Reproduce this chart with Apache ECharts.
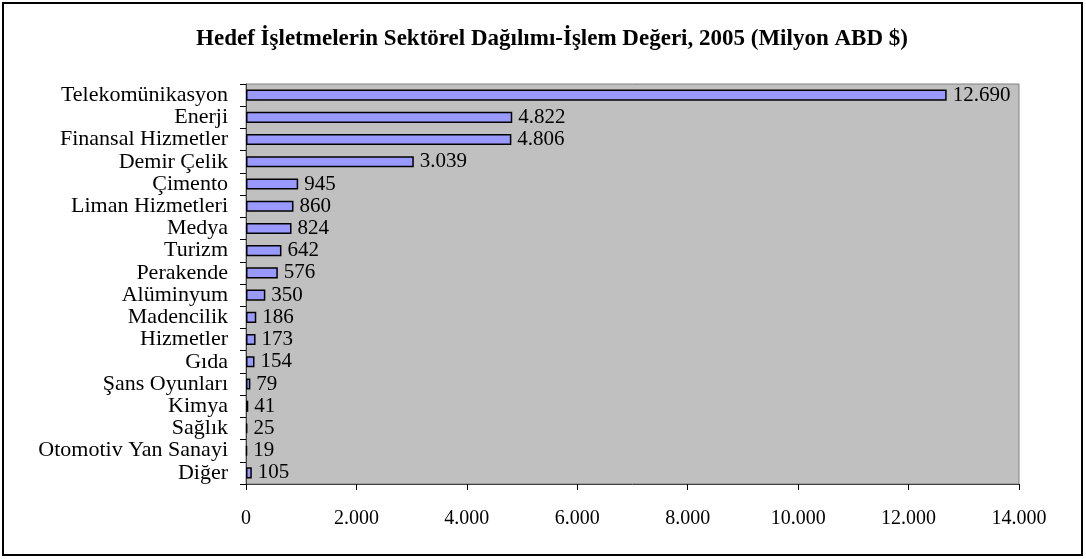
<!DOCTYPE html>
<html>
<head>
<meta charset="utf-8">
<script src="https://cdn.jsdelivr.net/npm/echarts@6/dist/echarts.min.js"></script>
<style>
  html, body { margin: 0; padding: 0; background: #ffffff; }
  #chart { width: 1086px; height: 559px; }
</style>
</head>
<body>
<div id="chart"></div>
<script>
// Sectors (top to bottom) and deal values in million USD
const sectors = [
  'Telekomünikasyon', 'Enerji', 'Finansal Hizmetler', 'Demir Çelik', 'Çimento',
  'Liman Hizmetleri', 'Medya', 'Turizm', 'Perakende', 'Alüminyum', 'Madencilik',
  'Hizmetler', 'Gıda', 'Şans Oyunları', 'Kimya', 'Sağlık', 'Otomotiv Yan Sanayi', 'Diğer'
];
const dealValues = [12690, 4822, 4806, 3039, 945, 860, 824, 642, 576, 350, 186, 173, 154, 79, 41, 25, 19, 105];
const axisMin = 0;
const axisMax = 14000;
const axisStep = 2000;

const titleText = 'Hedef İşletmelerin Sektörel Dağılımı-İşlem Değeri, 2005 (Milyon ABD $)';
const serif = '"Liberation Serif", "Times New Roman", serif';

// Turkish style thousands separator: 12690 -> "12.690"
function fmt(v) {
  return String(v).replace(/\B(?=(\d{3})+(?!\d))/g, '.');
}

const chart = echarts.init(document.getElementById('chart'));
chart.setOption({
  backgroundColor: '#ffffff',
  animation: false,
  title: {
    text: titleText,
    left: 547,
    textAlign: 'center',
    top: 23,
    textStyle: { fontFamily: serif, fontSize: 23, fontWeight: 'bold', color: '#000' }
  },
  graphic: [{
    type: 'rect',
    shape: { x: 3, y: 3, width: 1079, height: 552 },
    style: { fill: 'none', stroke: '#000', lineWidth: 2 },
    silent: true
  }],
  grid: {
    left: 246, right: 67, top: 84, bottom: 75,
    show: true,
    backgroundColor: '#C0C0C0',
    borderColor: '#808080',
    borderWidth: 1
  },
  xAxis: {
    type: 'value',
    min: axisMin, max: axisMax, interval: axisStep,
    axisLine: { show: true, lineStyle: { color: '#404040', width: 1 } },
    axisTick: { show: true, length: 6, inside: false, lineStyle: { color: '#000' } },
    splitLine: { show: false },
    axisLabel: {
      margin: 25,
      fontFamily: serif, fontSize: 20, color: '#000',
      formatter: fmt
    }
  },
  yAxis: {
    type: 'category',
    data: sectors,
    inverse: true,
    axisLine: { show: true, lineStyle: { color: '#404040', width: 1 } },
    axisTick: { show: true, length: 6, alignWithLabel: false, lineStyle: { color: '#000' } },
    axisLabel: {
      margin: 18, interval: 0,
      fontFamily: serif, fontSize: 22, color: '#000'
    }
  },
  series: [{
    type: 'bar',
    data: dealValues,
    barCategoryGap: '50%',
    itemStyle: { color: '#9999FF', borderColor: '#000', borderWidth: 1.5 },
    label: {
      show: true,
      position: 'right',
      distance: 6,
      fontFamily: serif, fontSize: 21, color: '#000',
      formatter: p => fmt(p.value)
    }
  }]
});
</script>
</body>
</html>
